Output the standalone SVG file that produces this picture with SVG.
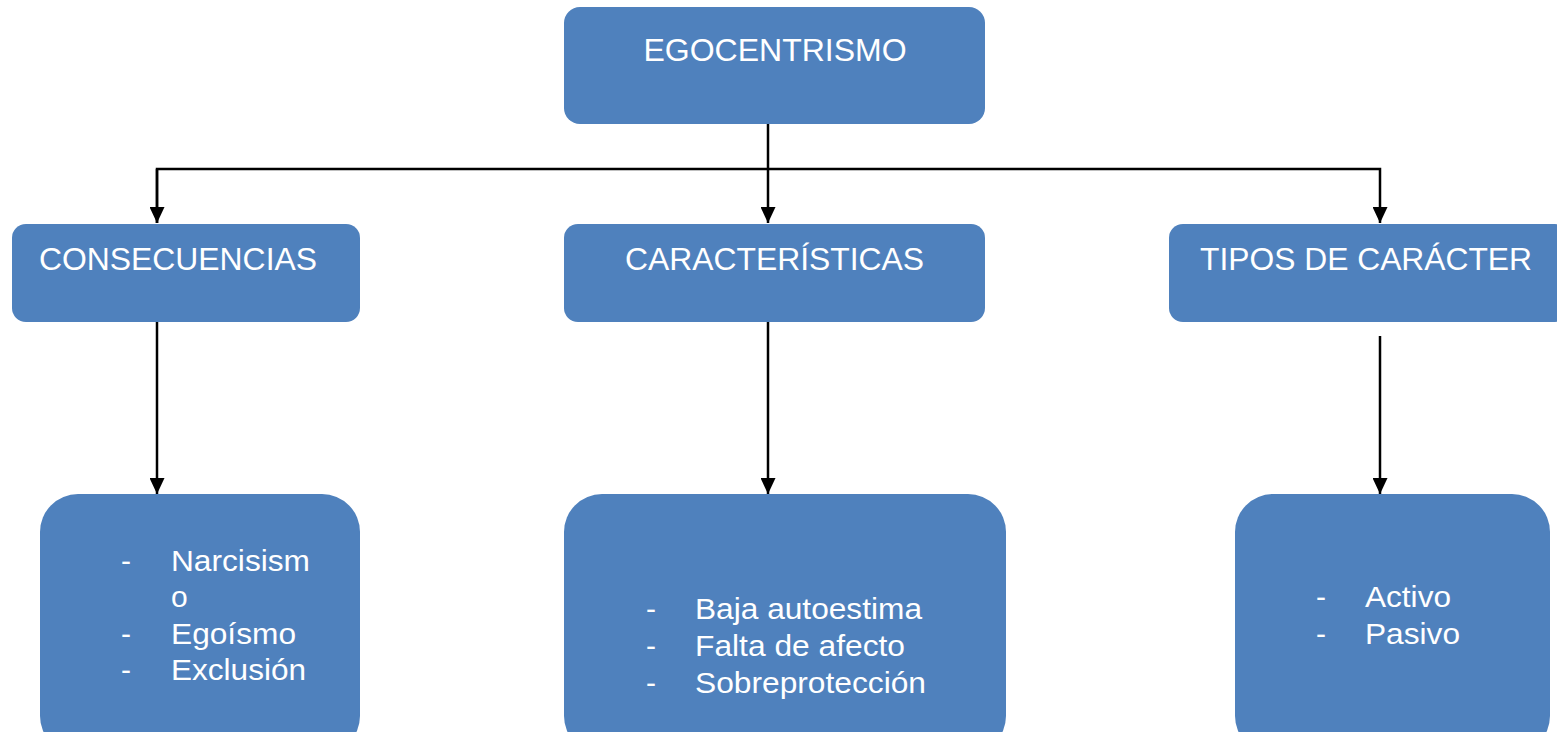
<svg xmlns="http://www.w3.org/2000/svg" width="1557" height="732" viewBox="0 0 1557 732">
<style>
.box{fill:#4f81bd;}
.t{fill:#fff;font-family:"Liberation Sans",Arial,sans-serif;}
.h{font-size:32px;}
.b{font-size:30px;}
.c{stroke:#000;stroke-width:2.5;fill:none;}
</style>
<defs>
<marker id="ah" viewBox="0 0 16 15" refX="16" refY="7.5" markerWidth="16" markerHeight="15" markerUnits="userSpaceOnUse" orient="auto">
<path d="M0,0 L16,7.5 L0,15 Z" fill="#000"/>
</marker>
</defs>
<rect width="1557" height="732" fill="#fff"/>
<g id="connectors">
<line class="c" x1="768" y1="124" x2="768" y2="223" marker-end="url(#ah)"/>
<polyline class="c" points="157,223 157,169 1380,169 1380,223" marker-end="url(#ah)"/>
<line class="c" x1="157" y1="169" x2="157" y2="223" marker-end="url(#ah)"/>
<line class="c" x1="157" y1="322" x2="157" y2="494" marker-end="url(#ah)"/>
<line class="c" x1="768" y1="322" x2="768" y2="494" marker-end="url(#ah)"/>
<line class="c" x1="1380" y1="336" x2="1380" y2="494" marker-end="url(#ah)"/>
</g>
<g id="egocentrismo">
<rect class="box" x="564" y="7" width="421" height="117" rx="16"/>
<text class="t h" x="775" y="61" text-anchor="middle">EGOCENTRISMO</text>
</g>
<g id="consecuencias">
<rect class="box" x="12" y="224" width="348" height="98" rx="14"/>
<text class="t h" x="39" y="270" textLength="278" lengthAdjust="spacingAndGlyphs">CONSECUENCIAS</text>
</g>
<g id="caracteristicas">
<rect class="box" x="564" y="224" width="421" height="98" rx="14"/>
<text class="t h" x="625" y="270" textLength="299" lengthAdjust="spacingAndGlyphs">CARACTERÍSTICAS</text>
</g>
<g id="tipos">
<rect class="box" x="1169" y="224" width="400" height="98" rx="14"/>
<text class="t h" x="1200" y="270" textLength="332" lengthAdjust="spacingAndGlyphs">TIPOS DE CARÁCTER</text>
</g>
<g id="lista-consecuencias">
<rect class="box" x="40" y="494" width="320" height="260" rx="38"/>
<text class="t b" x="121" y="571">-</text>
<text class="t b" x="171" y="571" textLength="139" lengthAdjust="spacingAndGlyphs">Narcisism</text>
<text class="t b" x="171" y="607">o</text>
<text class="t b" x="121" y="644">-</text>
<text class="t b" x="171" y="644" textLength="125" lengthAdjust="spacingAndGlyphs">Egoísmo</text>
<text class="t b" x="121" y="680">-</text>
<text class="t b" x="171" y="680" textLength="135" lengthAdjust="spacingAndGlyphs">Exclusión</text>
</g>
<g id="lista-caracteristicas">
<rect class="box" x="564" y="494" width="442" height="260" rx="38"/>
<text class="t b" x="646" y="619">-</text>
<text class="t b" x="695" y="619" textLength="227" lengthAdjust="spacingAndGlyphs">Baja autoestima</text>
<text class="t b" x="646" y="656">-</text>
<text class="t b" x="695" y="656" textLength="210" lengthAdjust="spacingAndGlyphs">Falta de afecto</text>
<text class="t b" x="646" y="693">-</text>
<text class="t b" x="695" y="693" textLength="231" lengthAdjust="spacingAndGlyphs">Sobreprotección</text>
</g>
<g id="lista-tipos">
<rect class="box" x="1235" y="494" width="315" height="260" rx="38"/>
<text class="t b" x="1316" y="607">-</text>
<text class="t b" x="1365" y="607" textLength="86" lengthAdjust="spacingAndGlyphs">Activo</text>
<text class="t b" x="1316" y="644">-</text>
<text class="t b" x="1365" y="644" textLength="95" lengthAdjust="spacingAndGlyphs">Pasivo</text>
</g>
</svg>
